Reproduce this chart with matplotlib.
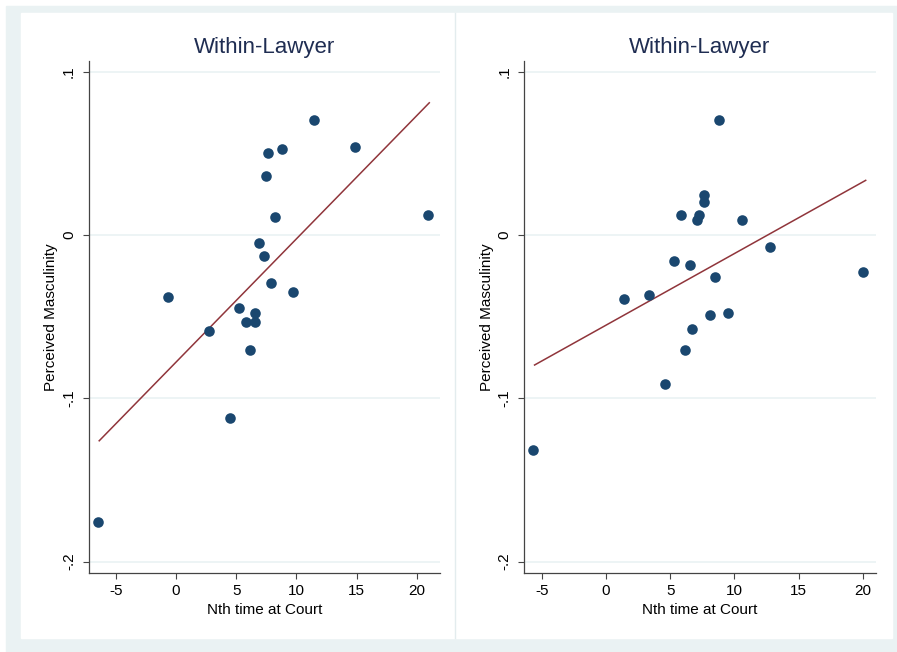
import numpy as np
import matplotlib
matplotlib.use("Agg")
import matplotlib.pyplot as plt
from matplotlib.patches import Rectangle
from matplotlib.lines import Line2D

plt.rcParams['font.family'] = ['Liberation Sans', 'DejaVu Sans']
plt.rcParams['axes.unicode_minus'] = False

# left panel data
left_x = [11.46, 14.84, 7.67, 8.80, 7.50, 8.25, 20.9, 6.92, 7.31, 7.86,
          9.75, -0.69, 5.23, 6.56, 5.79, 6.56, 2.77, 6.15, 4.46, -6.5]
left_y = [0.0706, 0.0541, 0.0500, 0.0527, 0.0359, 0.0108, 0.0122, -0.0047, -0.0129, -0.0296,
          -0.0351, -0.0380, -0.0449, -0.0478, -0.0533, -0.0533, -0.0588, -0.0702, -0.1119, -0.1760]
# fitted line ends
left_fit_x = [-6.37, 21.04]
left_fit_y = [-0.126, 0.081]

# right panel data
right_x = [8.84, 7.60, 7.62, 5.84, 7.26, 7.08, 10.63, 12.76, 5.29, 6.53,
           8.51, 20.02, 1.40, 3.37, 8.12, 9.54, 6.69, 6.19, 4.59, -5.68]
right_y = [0.0706, 0.0247, 0.0204, 0.0122, 0.0122, 0.0092, 0.0092, -0.0073, -0.0157, -0.0186,
           -0.0255, -0.0227, -0.0394, -0.0366, -0.0492, -0.0478, -0.0576, -0.0702, -0.0911, -0.1317]
right_fit_x = [-5.56, 20.23]
right_fit_y = [-0.0796, 0.0335]

title = "Within-Lawyer"
xlabel = "Nth time at Court"
ylabel = "Perceived Masculinity"
xticks = [-5, 0, 5, 10, 15, 20]
yticks = [0.1, 0, -0.1, -0.2]
ytick_labels = [".1", "0", "-.1", "-.2"]

navy = "#1a476f"
maroon = "#90353b"
bg = "#eaf2f3"

W, H = 897, 652
fig = plt.figure(figsize=(W / 100, H / 100), dpi=100)
fig.patch.set_facecolor("white")


def px(x0, y0, x1, y1):
    # pixel box (top-down) -> figure fraction [l, b, w, h]
    return [x0 / W, 1 - y1 / H, (x1 - x0) / W, (y1 - y0) / H]


l, b, w, h = px(6, 6, 897, 652)
fig.add_artist(Rectangle((l, b), w, h, transform=fig.transFigure, color=bg, zorder=-10))
l, b, w, h = px(21, 13, 892, 638)
fig.add_artist(Rectangle((l, b), w, h, transform=fig.transFigure, color="white", zorder=-9))
fig.add_artist(Line2D([455 / W, 455 / W], [1 - 638 / H, 1 - 13 / H], transform=fig.transFigure,
                      color="#e3ecee", lw=1.0, zorder=-8))


def panel(rect, xs, ys, fx, fy, xlim):
    ax = fig.add_axes(rect)
    ax.set_facecolor("white")
    for yv in yticks:
        ax.axhline(yv, color=bg, lw=1.2, zorder=0)
    ax.scatter(xs, ys, s=58, color=navy, linewidths=0, zorder=3)
    ax.plot(fx, fy, color=maroon, lw=1.1, zorder=2)
    ax.set_xlim(*xlim)
    ax.set_ylim(-0.2068, 0.1066)
    ax.set_xticks(xticks)
    ax.set_xticklabels([str(t) for t in xticks])
    ax.set_yticks(yticks)
    ax.set_yticklabels(ytick_labels, rotation=90, va="center")
    for s in ["top", "right"]:
        ax.spines[s].set_visible(False)
    for s in ["left", "bottom"]:
        ax.spines[s].set_color("#444444")
        ax.spines[s].set_linewidth(0.9)
    ax.tick_params(axis="both", length=4, width=0.8, color="#444444", labelsize=11, pad=4)
    ax.tick_params(axis="y", pad=5)
    ax.set_xlabel(xlabel, fontsize=11, labelpad=4)
    ax.set_ylabel(ylabel, fontsize=11, labelpad=3)
    ax.set_title(title, fontsize=16, color="#1f2d52", pad=6)
    return ax


panel(px(88.5, 61, 440, 572.7), left_x, left_y, left_fit_x, left_fit_y, (-7.26, 21.93))
panel(px(524.3, 61, 875.7, 572.7), right_x, right_y, right_fit_x, right_fit_y, (-6.36, 21.01))

fig.savefig("out.png", dpi=100)
